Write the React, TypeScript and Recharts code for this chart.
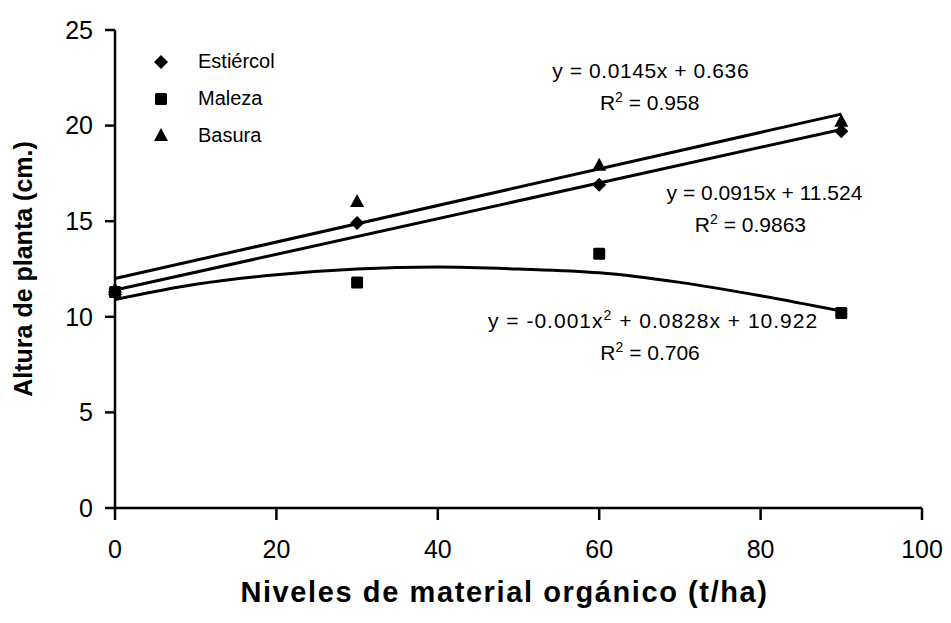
import React from "react";
import {
  ComposedChart,
  Line,
  Scatter,
  XAxis,
  YAxis,
  Label,
  Legend,
  ReferenceDot,
} from "recharts";

// observed plant height (cm) per organic matter level (t/ha)
const levels = [0, 30, 60, 90];
const seriesNames = ["Estiércol", "Maleza", "Basura"];
const estiercol = [11.3, 14.9, 16.9, 19.7];
const maleza = [11.3, 11.8, 13.3, 10.2];
const basura = [11.4, 16.0, 17.9, 20.2];

// fitted lines as drawn on the figure
const linearX = [0, 90];
const estiercolFit = [11.4, 19.8];
const basuraFit = [12.0, 20.6];
const curveX = [0, 10, 20, 30, 40, 50, 60, 70, 80, 90];
const malezaFit = [10.9, 11.7, 12.2, 12.5, 12.6, 12.5, 12.3, 11.8, 11.1, 10.3];

const xTicks = [0, 20, 40, 60, 80, 100];
const yTicks = [0, 5, 10, 15, 20, 25];

const FONT = "'Liberation Sans', Arial, sans-serif";

const toPoints = (xs: number[], ys: number[]) => xs.map((x, i) => ({ x, y: ys[i] }));

function Marker({ cx, cy, kind }: { cx: number; cy: number; kind: string }) {
  if (kind === "diamond") {
    const s = 7;
    return <polygon points={`${cx},${cy - s} ${cx + s},${cy} ${cx},${cy + s} ${cx - s},${cy}`} fill="#000" />;
  }
  if (kind === "square") {
    return <rect x={cx - 6} y={cy - 6} width={12} height={12} rx={1.5} fill="#000" />;
  }
  return <polygon points={`${cx},${cy - 8} ${cx + 7},${cy + 5} ${cx - 7},${cy + 5}`} fill="#000" />;
}

function LegendBox({ payload }: any) {
  const items = (payload || [])
    .filter((p: any) => p.type !== "none")
    .sort((a: any, b: any) => seriesNames.indexOf(a.value) - seriesNames.indexOf(b.value));
  return (
    <div style={{ fontFamily: FONT, fontSize: 20 }}>
      {items.map((p: any) => (
        <div key={p.value} style={{ display: "flex", alignItems: "center", height: 37 }}>
          <svg width={20} height={20} style={{ marginRight: 27 }}>
            <Marker cx={10} cy={10} kind={p.type} />
          </svg>
          <span>{p.value}</span>
        </div>
      ))}
    </div>
  );
}

function eqLabel(eq: React.ReactNode, r2: string, r2dx: number, spacing = 0) {
  return (props: any) => {
    const { x, y } = props.viewBox;
    return (
      <g fontFamily={FONT} fontSize={21} fill="#000">
        <text x={x} y={y} textAnchor="middle" letterSpacing={spacing}>{eq}</text>
        <text x={x + r2dx} y={y + 32} textAnchor="middle">
          R<tspan dy={-8} fontSize={14}>2</tspan>
          <tspan dy={8}>{` = ${r2}`}</tspan>
        </text>
      </g>
    );
  };
}

export default function App() {
  return (
    <div style={{ position: "absolute", left: 0, top: 0, background: "#fff" }}>
      <ComposedChart width={951} height={623} margin={{ top: 30, right: 29, bottom: 55, left: 55 }}>
        <XAxis
          type="number"
          dataKey="x"
          domain={[0, 100]}
          ticks={xTicks}
          allowDuplicatedCategory={false}
          height={60}
          tick={{ fontSize: 25, fill: "#000", fontFamily: FONT }}
          tickSize={12}
          tickMargin={20}
          stroke="#000"
          strokeWidth={2.5}
        >
          <Label
            value="Niveles de material orgánico (t/ha)"
            position="insideBottom"
            offset={-34}
            dx={-14}
            style={{ fontSize: 29, fontWeight: 700, fill: "#000", fontFamily: FONT, letterSpacing: 1.6 }}
          />
        </XAxis>
        <YAxis
          type="number"
          dataKey="y"
          domain={[0, 25]}
          ticks={yTicks}
          width={60}
          tick={{ fontSize: 25, fill: "#000", fontFamily: FONT }}
          tickSize={10}
          tickMargin={12}
          stroke="#000"
          strokeWidth={2.5}
        >
          <Label
            value="Altura de planta (cm.)"
            angle={-90}
            position="insideLeft"
            offset={-32}
            style={{ fontSize: 25, fontWeight: 700, fill: "#000", fontFamily: FONT, textAnchor: "middle" }}
          />
        </YAxis>
        <Legend
          layout="vertical"
          verticalAlign="middle"
          align="center"
          content={<LegendBox />}
          wrapperStyle={{ left: 151, top: 43, width: 200 }}
        />
        <Line
          data={toPoints(linearX, basuraFit)}
          dataKey="y"
          type="linear"
          stroke="#000"
          strokeWidth={3}
          dot={false}
          legendType="none"
          isAnimationActive={false}
        />
        <Line
          data={toPoints(linearX, estiercolFit)}
          dataKey="y"
          type="linear"
          stroke="#000"
          strokeWidth={3}
          dot={false}
          legendType="none"
          isAnimationActive={false}
        />
        <Line
          data={toPoints(curveX, malezaFit)}
          dataKey="y"
          type="monotone"
          stroke="#000"
          strokeWidth={3}
          dot={false}
          legendType="none"
          isAnimationActive={false}
        />
        <Scatter
          name={seriesNames[0]}
          data={toPoints(levels, estiercol)}
          legendType="diamond"
          shape={(p: any) => <Marker cx={p.cx} cy={p.cy} kind="diamond" />}
          isAnimationActive={false}
        />
        <Scatter
          name={seriesNames[1]}
          data={toPoints(levels, maleza)}
          legendType="square"
          shape={(p: any) => <Marker cx={p.cx} cy={p.cy} kind="square" />}
          isAnimationActive={false}
        />
        <Scatter
          name={seriesNames[2]}
          data={toPoints(levels, basura)}
          legendType="triangle"
          shape={(p: any) => <Marker cx={p.cx} cy={p.cy} kind="triangle" />}
          isAnimationActive={false}
        />
        <ReferenceDot
          x={66.5}
          y={22.44}
          r={1}
          fill="none"
          stroke="none"
          ifOverflow="visible"
          label={{ content: eqLabel("y = 0.0145x + 0.636", "0.958", -1, 0.6) }}
        />
        <ReferenceDot
          x={80.6}
          y={16.05}
          r={1}
          fill="none"
          stroke="none"
          ifOverflow="visible"
          label={{ content: eqLabel("y = 0.0915x + 11.524", "0.9863", -14) }}
        />
        <ReferenceDot
          x={66.8}
          y={9.36}
          r={1}
          fill="none"
          stroke="none"
          ifOverflow="visible"
          label={{
            content: eqLabel(
              <>
                y = -0.001x<tspan dy={-8} fontSize={14}>2</tspan>
                <tspan dy={8}> + 0.0828x + 10.922</tspan>
              </>,
              "0.706",
              -3,
              1
            ),
          }}
        />
      </ComposedChart>
    </div>
  );
}
